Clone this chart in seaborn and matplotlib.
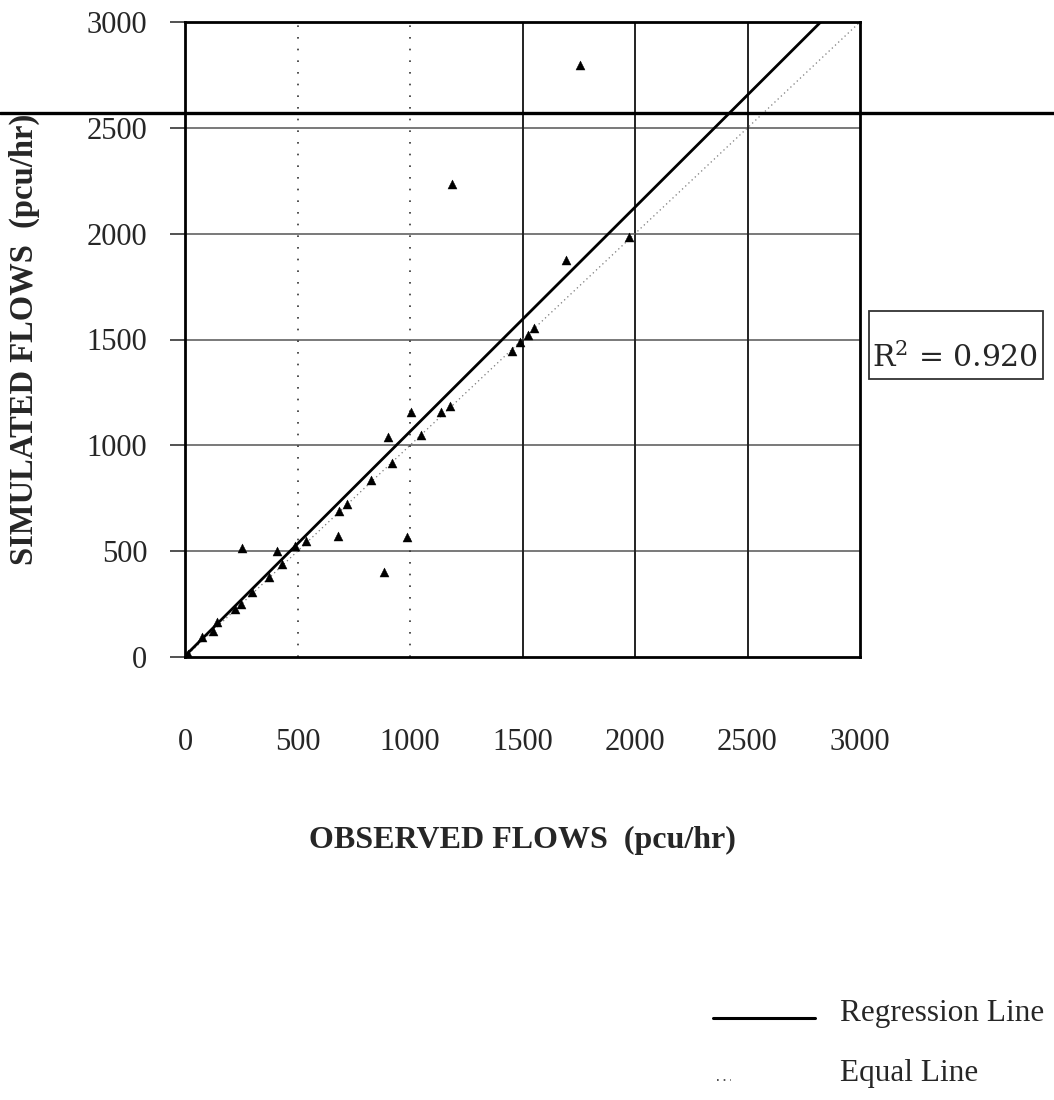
import numpy as np
import pandas as pd
import matplotlib
matplotlib.use('Agg')
import matplotlib.pyplot as plt
import seaborn as sns

# observed vs simulated flows (pcu/hr)
observed = [15, 77, 126, 141, 222, 247, 296, 252, 372, 407, 431, 489, 536, 681, 683,
            721, 825, 884, 903, 921, 988, 1004, 1047, 1136, 1178, 1452, 1489, 1523,
            1551, 1692, 1975, 1188, 1756]
simulated = [15, 93, 124, 164, 225, 250, 307, 513, 379, 501, 439, 525, 547, 571, 689,
             722, 835, 401, 1038, 915, 565, 1156, 1047, 1156, 1184, 1448, 1487, 1519,
             1553, 1877, 1986, 2233, 2795]
ticks = [0, 500, 1000, 1500, 2000, 2500, 3000]
reg_slope = 1.06
reg_intercept = 5
r2_text = 'R$^{2}$ = 0.920'

df = pd.DataFrame({'obs': observed, 'sim': simulated})
line_x = np.array([0, 3000])
lines = pd.DataFrame({'x': line_x, 'reg': reg_slope * line_x + reg_intercept, 'eq': line_x})

sns.set_style('white')
plt.rcParams['font.family'] = ['Liberation Serif', 'DejaVu Serif']
plt.rcParams['mathtext.fontset'] = 'dejavuserif'

W, H = 1054, 1100
fig = plt.figure(figsize=(W / 100, H / 100), dpi=100)
ax = fig.add_axes([185 / W, 1 - 657 / H, 675 / W, 635 / H])

# grid
for t in [500, 1000, 1500, 2000, 2500]:
    ax.axhline(t, color='#555555', lw=1.1, zorder=1)
for t in [500, 1000]:
    ax.axvline(t, color='#333333', lw=1.2, ls=(0, (1, 6)), zorder=1)
for t in [1500, 2000, 2500]:
    ax.axvline(t, color='#222222', lw=1.4, zorder=1)

sns.lineplot(data=lines, x='x', y='eq', ax=ax, color='#777777', lw=0.9,
             linestyle=(0, (1, 2.5)), zorder=2)
sns.lineplot(data=lines, x='x', y='reg', ax=ax, color='black', lw=2.0, zorder=3)
sns.scatterplot(data=df, x='obs', y='sim', ax=ax, marker='^', s=42,
                color='black', edgecolor='black', linewidth=0.3, zorder=4)

ax.set_xlim(0, 3000)
ax.set_ylim(0, 3000)
ax.set_xticks(ticks)
ax.set_yticks(ticks)
ax.set_xticklabels([str(t) for t in ticks], fontsize=22)
ax.set_yticklabels([str(t) for t in ticks], fontsize=22)
ax.tick_params(axis='x', length=0, pad=51)
ax.tick_params(axis='y', left=True, direction='out', length=11, width=1.2,
               color='#333333', pad=16)
for sp in ax.spines.values():
    sp.set_visible(True)
    sp.set_color('black')
    sp.set_linewidth(2.0)

ax.set_xlabel('OBSERVED FLOWS  (pcu/hr)', fontsize=23, fontweight='bold')
ax.xaxis.set_label_coords(0.5, (657 - 826) / 635)
ax.set_ylabel('SIMULATED FLOWS  (pcu/hr)', fontsize=23.5, fontweight='bold')
ax.yaxis.set_label_coords((40 - 185) / 675, 0.5)

# R squared box
fig.add_artist(plt.Rectangle((869 / W, 1 - 379 / H), 174 / W, 68 / H, transform=fig.transFigure,
                             facecolor='white', edgecolor='#333333', lw=1.3))
fig.text(872 / W, 1 - 367 / H, r2_text, fontsize=21.5, va='baseline', ha='left',
         family=['DejaVu Serif'])

# legend drawn by hand
fig.add_artist(plt.Line2D([713 / W, 815 / W], [1 - 1018 / H] * 2, color='black', lw=2.2))
fig.text(840 / W, 1 - 1014 / H, 'Regression Line', fontsize=22.5, va='center')
fig.add_artist(plt.Line2D([717 / W, 731 / W], [1 - 1080 / H] * 2,
                          color='#333333', lw=1.2, ls=(0, (1, 3))))
fig.text(840 / W, 1 - 1073 / H, 'Equal Line', fontsize=22.5, va='center')

# dark scan line running across the page
fig.add_artist(plt.Line2D([0, 1], [1 - 113 / H] * 2, color='black', lw=2.4))

fig.savefig('out.png', dpi=100, facecolor='white')
